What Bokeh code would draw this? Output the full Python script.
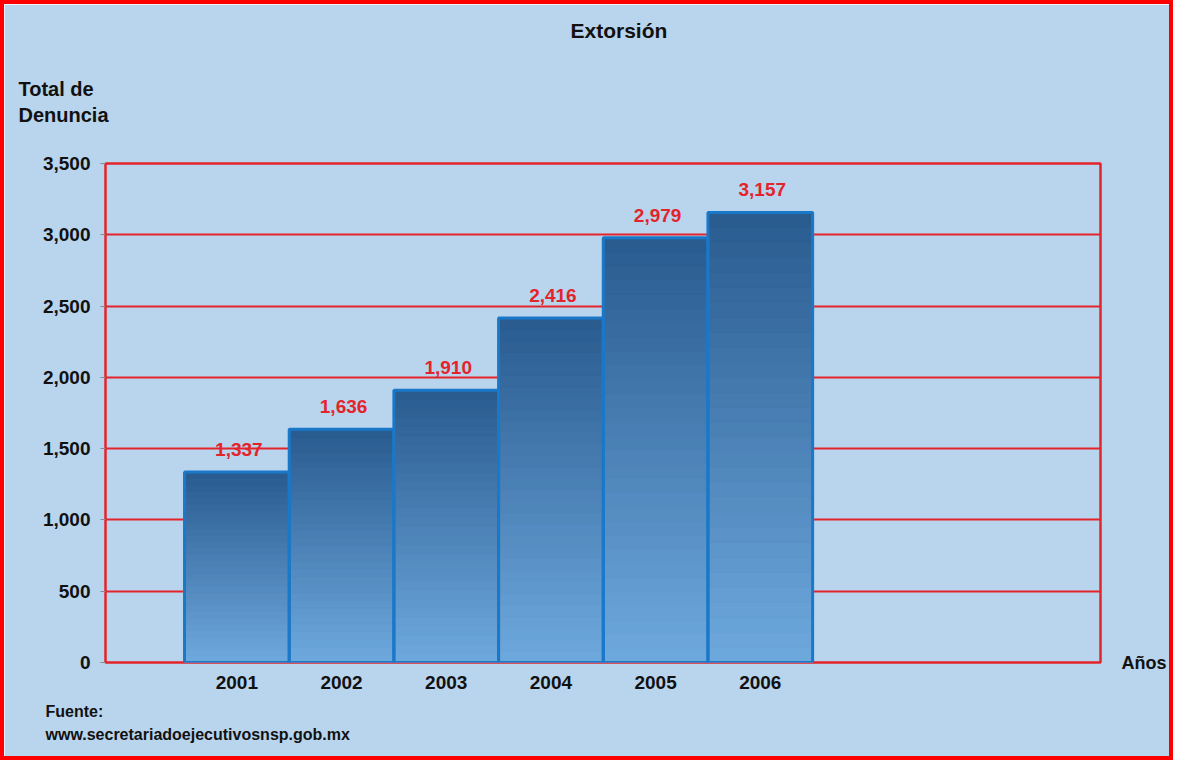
from bokeh.plotting import figure
from bokeh.models import (ColumnDataSource, LabelSet, Title, LinearAxis, NumeralTickFormatter,
                          FixedTicker, Range1d)
from bokeh.core.properties import value
from bokeh.embed import file_html
from bokeh.resources import INLINE

# ---- data ----
years = [2001, 2002, 2003, 2004, 2005, 2006]
denuncias = [1337, 1636, 1910, 2416, 2979, 3157]
value_labels = ["1,337", "1,636", "1,910", "2,416", "2,979", "3,157"]
y_ticks = [0, 500, 1000, 1500, 2000, 2500, 3000, 3500]
title_text = "Extorsión"
y_title = ["Total de", "Denuncia"]
x_title = "Años"
source_lines = ["Fuente:", "www.secretariadoejecutivosnsp.gob.mx"]

FONT = "Liberation Sans"
BG = "#b9d4ed"
RED = "#e3242b"
INK = "#111111"

W, H = 1173, 760
p = figure(width=W, height=H, output_backend="svg", toolbar_location=None,
           x_range=Range1d(1999.745, 2009.25), y_range=Range1d(0, 3500),
           min_border_left=101, min_border_right=77, min_border_top=159, min_border_bottom=102)
p.styles = {"border": "4px solid #ff0000"}
p.background_fill_color = BG
p.border_fill_color = BG
p.outline_line_color = RED
p.outline_line_width = 2.5

# gradient bars: stack of thin bands per bar (top dark -> bottom light)
top_rgb = (0x2a, 0x5c, 0x90)
bot_rgb = (0x6d, 0xa8, 0xdd)
N = 30
bx, bb, bt, bc = [], [], [], []
for yr, v in zip(years, denuncias):
    for k in range(N):
        f = k / (N - 1)
        c = tuple(int(round(bot_rgb[i] + (top_rgb[i] - bot_rgb[i]) * f)) for i in range(3))
        bx.append(yr)
        bb.append(v * k / N)
        bt.append(v * (k + 1) / N)
        bc.append("#%02x%02x%02x" % c)
p.vbar(x=bx, bottom=bb, top=bt, width=1.0, fill_color=bc, line_color=bc, line_width=1)
p.vbar(x=years, bottom=0, top=denuncias, width=1.0, fill_color=None,
       line_color="#1a78c9", line_width=3)

# value labels
src = ColumnDataSource(dict(x=years, y=denuncias, t=value_labels))
p.add_layout(LabelSet(x="x", y="y", text="t", source=src, y_offset=16, x_offset=2,
                      text_align="center", text_baseline="bottom",
                      text_color=RED, text_font=value(FONT), text_font_style="bold",
                      text_font_size="19px"))

# axes
p.yaxis.ticker = FixedTicker(ticks=y_ticks)
p.yaxis.formatter = NumeralTickFormatter(format="0,0")
p.yaxis.axis_line_color = None
p.yaxis.major_tick_line_color = "#8a8a8a"
p.yaxis.major_tick_out = 5
p.yaxis.major_tick_in = 0
p.yaxis.minor_tick_line_color = None
p.yaxis.major_label_standoff = 10
p.yaxis.major_label_text_font = FONT
p.yaxis.major_label_text_font_style = "bold"
p.yaxis.major_label_text_font_size = "19px"
p.yaxis.major_label_text_color = INK

p.xaxis.ticker = FixedTicker(ticks=years)
p.xaxis.axis_line_color = None
p.xaxis.major_tick_line_color = None
p.xaxis.minor_tick_line_color = None
p.xaxis.major_label_standoff = 7
p.xaxis.major_label_text_font = FONT
p.xaxis.major_label_text_font_style = "bold"
p.xaxis.major_label_text_font_size = "19px"
p.xaxis.major_label_text_color = INK

# "Años" as a label on a right-hand axis at the zero line
r_axis = LinearAxis(ticker=FixedTicker(ticks=[0]), major_label_overrides={0: x_title},
                    axis_line_color=None, major_tick_line_color=None, minor_tick_line_color=None,
                    major_label_standoff=15, major_label_text_font=FONT,
                    major_label_text_font_style="bold", major_label_text_font_size="18px",
                    major_label_text_color=INK)
p.add_layout(r_axis, "right")

p.xgrid.grid_line_color = None
p.ygrid.ticker = FixedTicker(ticks=y_ticks)
p.ygrid.grid_line_color = RED
p.ygrid.grid_line_width = 2

# titles (first added = closest to the frame)
def ttl(text, place, size, offset, standoff, lh=1.0):
    p.add_layout(Title(text=text, align="left", offset=offset, standoff=standoff,
                       text_font=FONT, text_font_style="bold", text_font_size=size,
                       text_color=INK, text_line_height=lh), place)

p.title.text = ""
ttl("\n".join(y_title), "above", "20px", -87, 74, 1.2)
ttl(title_text, "above", "21px", 465, -4)

ttl(source_lines[0], "below", "16px", -60, 18)
ttl(source_lines[1], "below", "16px", -60, -9)

open("out.html", "w").write(file_html(p, INLINE))
